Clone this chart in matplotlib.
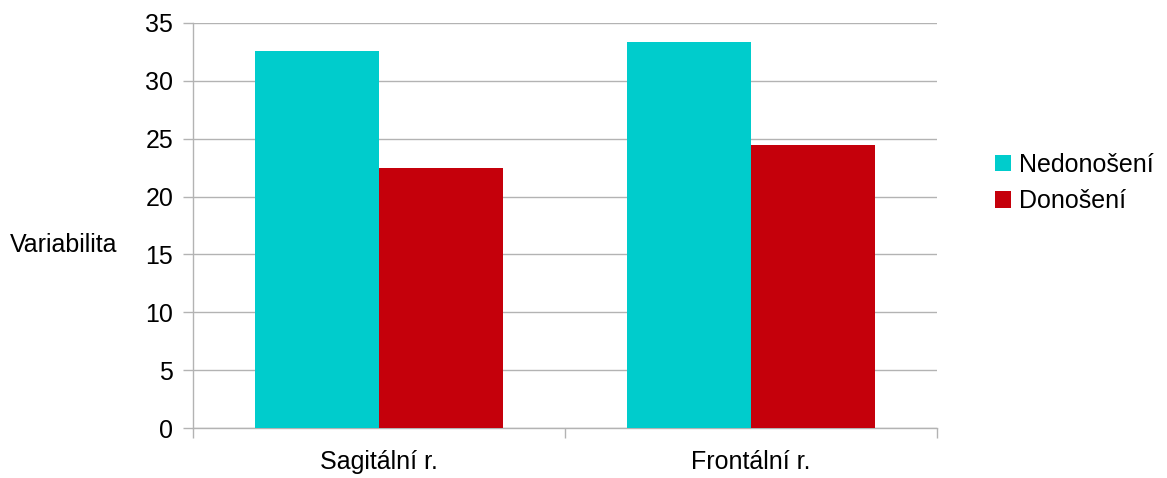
import matplotlib
matplotlib.use("Agg")
import matplotlib.pyplot as plt
from matplotlib.patches import Patch
import numpy as np

categories = ["Sagitální r.", "Frontální r."]
series_names = ["Nedonošení", "Donošení"]
nedonoseni = [32.6, 33.4]
donoseni = [22.5, 24.5]
colors = ["#00CCCC", "#C5000B"]
y_ticks = [0, 5, 10, 15, 20, 25, 30, 35]

plt.rcParams["font.family"] = ["Liberation Sans", "DejaVu Sans"]
FS = 18

fig = plt.figure(figsize=(11.67, 4.78), dpi=100)
ax = fig.add_axes([193 / 1167, 50 / 478, (937 - 193) / 1167, (428 - 23) / 478])

x = np.arange(len(categories))
w = 1 / 3
ax.bar(x - w / 2, nedonoseni, width=w, color=colors[0], zorder=3)
ax.bar(x + w / 2, donoseni, width=w, color=colors[1], zorder=3)

ax.set_xlim(-0.5, len(categories) - 0.5)
ax.set_ylim(0, 35)
ax.set_yticks(y_ticks)
ax.set_yticklabels([str(v) for v in y_ticks], fontsize=FS)
ax.set_xticks(x)
ax.set_xticklabels(categories, fontsize=FS)
ax.set_xticks(np.arange(len(categories) + 1) - 0.5, minor=True)

grid_c = "#B3B3B3"
ax.yaxis.grid(True, color=grid_c, linewidth=1, zorder=0)
ax.tick_params(axis="y", length=7.2, color=grid_c, width=1, pad=7)
ax.tick_params(axis="x", which="major", length=0, pad=16)
ax.tick_params(axis="x", which="minor", length=7.2, color=grid_c, width=1)
for s in ["top", "right"]:
    ax.spines[s].set_visible(False)
for s in ["left", "bottom"]:
    ax.spines[s].set_color(grid_c)
    ax.spines[s].set_linewidth(1)

fig.text(10 / 1167, (478 - 245) / 478, "Variabilita", fontsize=FS, va="center", ha="left")

handles = [Patch(facecolor=c, edgecolor="none") for c in colors]
fig.legend(handles, series_names, loc="center left", bbox_to_anchor=(985 / 1167, (478 - 183) / 478),
           frameon=False, fontsize=FS, handlelength=0.64, handleheight=0.64,
           handletextpad=0.32, labelspacing=0.5, borderpad=0.4, borderaxespad=0)

fig.savefig("out.png", dpi=100)
